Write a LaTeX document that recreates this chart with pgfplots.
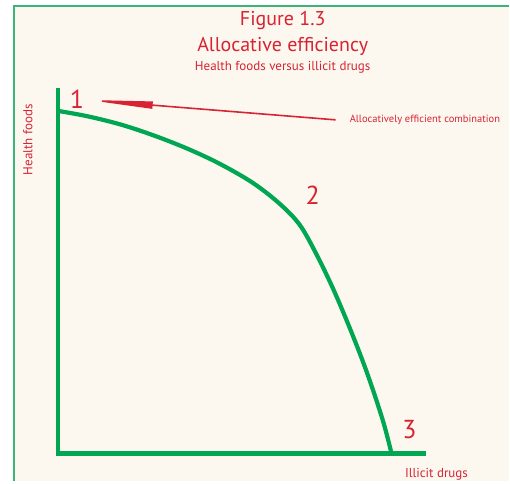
\documentclass[border=0pt]{standalone}
\usepackage{pgfplots}
\pgfplotsset{compat=1.18}
\usepackage{fontspec}
\setmainfont{PT Sans}
\usetikzlibrary{arrows.meta}
\definecolor{cream}{RGB}{252,248,240}
\definecolor{pgreen}{RGB}{0,166,81}
\definecolor{fgreen}{RGB}{60,180,120}
\definecolor{pred}{RGB}{215,35,50}
\begin{document}
\begin{tikzpicture}
\begin{axis}[
  scale only axis, width=510pt, height=482pt,
  xmin=0, xmax=510, ymin=0, ymax=482, y dir=reverse,
  hide axis, clip=false,
]
\fill[white] (axis cs:0,0) rectangle (axis cs:510,482);
\fill[cream] (axis cs:14,6) rectangle (axis cs:510,482);
\draw[fgreen, line width=1.2pt] (axis cs:14,482) -- (axis cs:14,6) -- (axis cs:510,6);
% axes
\addplot[pgreen, line width=4.4pt, line join=miter, mark=none] coordinates {(58,88) (58,454) (426,454)};
% PPF curve
\addplot[pgreen, line width=4.2pt, smooth, tension=0.55, mark=none] coordinates {
(58,111) (88,116.5) (122,125) (155,136) (188,149) (220,164) (253,183) (280,204) (300,225) (316,253) (333,288) (350,328) (367,372) (383,420) (392,454)};
% arrow
\draw[pred, line width=1.6pt, -{Triangle[length=66pt,width=7pt]}] (axis cs:336,120) -- (axis cs:87,100);
% titles
\node[pred, font=\fontsize{20}{22}\selectfont] at (axis cs:283,21) {Figure 1.3};
\node[pred, font=\fontsize{20}{22}\selectfont] at (axis cs:283,47) {Allocative efficiency};
\node[pred, font=\fontsize{13}{15}\selectfont] at (axis cs:283,67) {Health foods versus illicit drugs};
\node[pred, font=\fontsize{10.5}{12}\selectfont, anchor=west, inner sep=0pt] at (axis cs:350,120) {Allocatively efficient combination};
\node[pred, font=\fontsize{13}{15}\selectfont, rotate=90] at (axis cs:28,140) {Health foods};
\node[pred, font=\fontsize{13}{15}\selectfont] at (axis cs:437,475) {Illicit drugs};
\node[pred, font=\fontsize{26}{28}\selectfont] at (axis cs:77,99) {1};
\node[pred, font=\fontsize{26}{28}\selectfont] at (axis cs:313,195) {2};
\node[pred, font=\fontsize{26}{28}\selectfont] at (axis cs:410,430) {3};
\end{axis}
\end{tikzpicture}
\end{document}
